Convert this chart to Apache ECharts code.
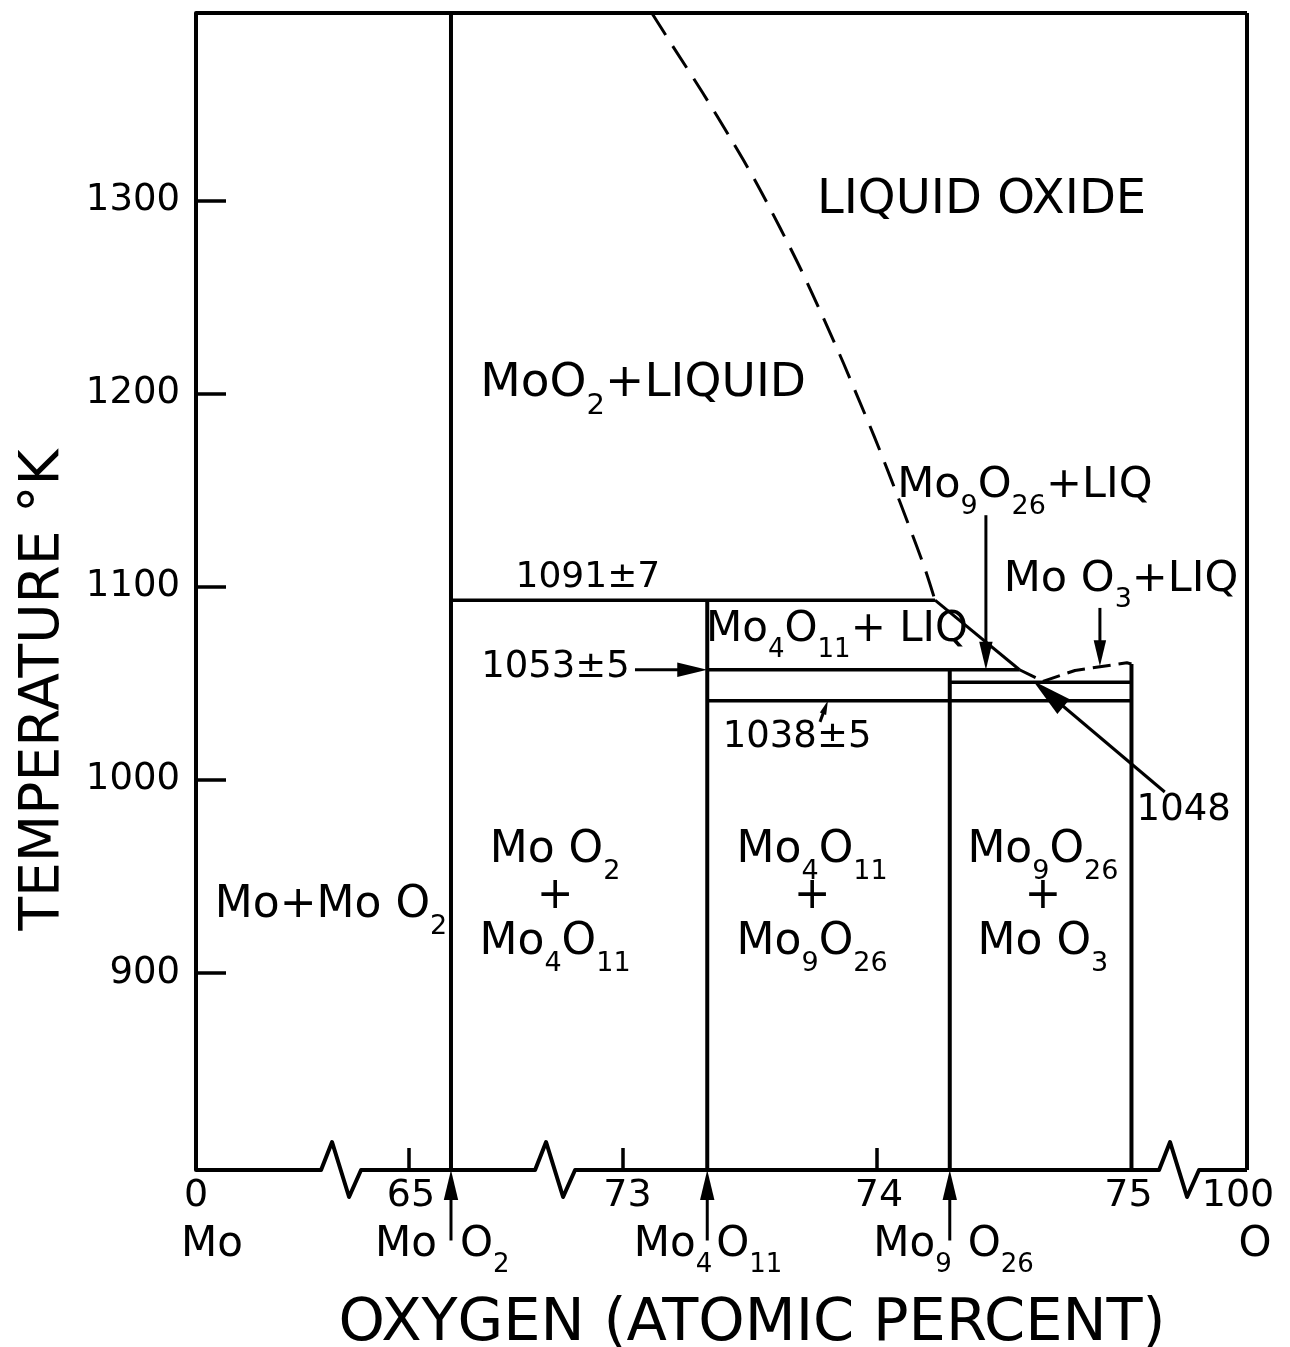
<!DOCTYPE html>
<html><head><meta charset="utf-8">
<script src="https://cdn.jsdelivr.net/npm/echarts@6/dist/echarts.min.js"></script>
<style>html,body{margin:0;padding:0;background:#fff;}#c{width:1290px;height:1347px;}</style>
</head><body><div id="c"></div>
<script>
// ---------------- data ----------------
const compoundNames = ['MoO2', 'Mo4O11', 'Mo9O26', 'MoO3'];
const compoundO = [66.667, 73.333, 74.286, 75.0];           // atomic % oxygen
const tempMin = 798, tempMax = 1397;                        // K
const yTickValues = [900, 1000, 1100, 1200, 1300];
const xTickValues = [0, 65, 73, 74, 75, 100];
const xTickLabels = ['0', '65', '73', '74', '75', '100'];
const xMinorTicks = [65, 73, 74];
// broken composition axis: composition anchors and their place along the drawn axis
const axisAnchorO = [0, 65, 66.667, 73, 75, 100];
const axisAnchorPos = [71.324, 72.161, 72.326, 73, 75, 75.454];
const axisBreakPos = [71.894, 72.735, 75.187];
// MoO2 + liquid boundary (dashed)
const liquidusO = [73.115, 73.203, 73.315, 73.426, 73.523, 73.619, 73.703, 73.787, 73.868, 73.919, 73.989, 74.055, 74.125, 74.187, 74.228];
const liquidusT = [1397, 1378.7, 1355.7, 1331.8, 1309.8, 1285.8, 1263.7, 1239.8, 1215.8, 1199.8, 1177.8, 1155.8, 1131.8, 1109.8, 1093];
// Mo4O11 + liquid boundary (solid)
const liq2O = [74.228, 74.56];
const liq2T = [1093, 1057];
// near-eutectic boundaries (dashed)
const liq3O = [74.56, 74.652, 74.778, 74.982, 75.0];
const liq3T = [1057, 1051, 1056.6, 1060.6, 1060];
// isotherms (1091, 1053, 1048, 1038 as drawn)
const isoT = [1093, 1057, 1050.5, 1041];
const isoFromO = [66.667, 73.333, 74.286, 73.333];
const isoToO = [74.228, 74.56, 75.0, 75.0];
// compound verticals (top temperature)
const vertTopT = [1397, 1093, 1057, 1060];
// annotation arrows [O, T]
const arrowFrom = [[73.049, 1057], [73.776, 1030], [74.428, 1137], [74.876, 1089], [82.2, 993.7], [66.667, 761.5], [73.333, 761.5], [74.286, 761.5]];
const arrowTo = [[73.333, 1057], [73.807, 1041], [74.428, 1057], [74.876, 1058.8], [74.613, 1051.3], [66.667, 798], [73.333, 798], [74.286, 798]];

// ---------------- style ----------------
const FONT = 'DejaVu Sans';
const INK = '#000';
const arrowHeadLen = [30, 14, 28, 26, 40, 30, 30, 30];
const xTickNudge = [0, 2, 5, 2, -3, -9];

function toU(o) {
  for (let i = 0; i < axisAnchorO.length - 1; i++) {
    const a = axisAnchorO[i], b = axisAnchorO[i + 1];
    if (o <= b || i === axisAnchorO.length - 2) {
      return axisAnchorPos[i] + (o - a) / (b - a) * (axisAnchorPos[i + 1] - axisAnchorPos[i]);
    }
  }
}
const uMin = toU(0), uMax = toU(100);

function chem(str) {
  return str.split('\n').map(line => {
    let out = '';
    const re = /_(\d+)/g; let last = 0, m;
    while ((m = re.exec(line))) {
      if (m.index > last) out += '{n|' + line.slice(last, m.index) + '}';
      out += '{s|' + m[1] + '}';
      last = re.lastIndex;
    }
    if (last < line.length) out += '{n|' + line.slice(last) + '}';
    return out;
  }).join('\n');
}
function rich(size) {
  const lh = Math.round(size * 1.05);
  return {
    n: { fontSize: size, fontFamily: FONT, fill: INK, lineHeight: lh },
    s: { fontSize: Math.round(size * 0.62), fontFamily: FONT, fill: INK, lineHeight: lh, padding: [Math.round(size * 0.95), 0, 0, 0] }
  };
}

const labels = [
  { t: 'LIQUID OXIDE', o: 74.411, T: 1300, size: 48 },
  { t: 'MoO_2+LIQUID', o: 73.081, T: 1205, size: 47 },
  { t: 'Mo_9O_26+LIQ', o: 74.581, T: 1152, size: 43 },
  { t: 'Mo O_3+LIQ', o: 74.959, T: 1103.5, size: 43 },
  { t: '1091±7', o: 71.722, T: 1104.5, size: 36 },
  { t: 'Mo_4O_11+ LIQ', o: 73.843, T: 1077.6, size: 42 },
  { t: '1053±5', o: 73.029, T: 1058, size: 37, align: 'right' },
  { t: '1038±5', o: 73.686, T: 1022, size: 37 },
  { t: '1048', o: 86.3, T: 984.4, size: 37 },
  { t: 'Mo+Mo O_2', o: 41.2, T: 934.7, size: 44 },
  { t: 'Mo O_2\n+\nMo_4O_11', o: 70.51, T: 939.4, size: 44 },
  { t: 'Mo_4O_11\n+\nMo_9O_26', o: 73.745, T: 939.4, size: 44 },
  { t: 'Mo_9O_26\n+\nMo O_3', o: 74.652, T: 939.4, size: 44 },
  { t: 'Mo', o: 0, T: 759.2, size: 42, dx: 16 },
  { t: 'Mo', o: compoundO[0], T: 759.2, size: 42, align: 'right', dx: -14 },
  { t: 'O_2', o: compoundO[0], T: 759.2, size: 42, align: 'left', dx: 9 },
  { t: 'Mo_4', o: compoundO[1], T: 759.2, size: 42, align: 'right', dx: 5 },
  { t: 'O_11', o: compoundO[1], T: 759.2, size: 42, align: 'left', dx: 9 },
  { t: 'Mo_9', o: compoundO[2], T: 759.2, size: 42, align: 'right', dx: 2 },
  { t: 'O_26', o: compoundO[2], T: 759.2, size: 42, align: 'left', dx: 18 },
  { t: 'O', o: 100, T: 759.2, size: 42, dx: 8 },
  { t: 'OXYGEN (ATOMIC PERCENT)', o: 73.509, T: 718, size: 59 },
  { t: 'TEMPERATURE °K', o: 0, T: 1046.5, size: 55, dx: -152, rot: 90 }
];
xTickValues.forEach((v, i) => labels.push({ t: xTickLabels[i], o: v, T: 784.6, size: 38, dx: xTickNudge[i] }));

function lineSeries(os, ts, opt) {
  opt = opt || {};
  return {
    type: 'line', data: os.map((o, i) => [toU(o), ts[i]]), symbol: 'none', silent: true,
    clip: false, smooth: opt.smooth || false, animation: false, z: 3,
    lineStyle: { color: INK, width: opt.width || 3.5, type: opt.dash || 'solid', cap: 'butt', join: 'round' }
  };
}

const series = [];
series.push(lineSeries([0, 100], [tempMax, tempMax], { width: 4 }));
series.push(lineSeries([100, 100], [tempMin, tempMax], { width: 4 }));
compoundO.forEach((o, i) => series.push(lineSeries([o, o], [tempMin, vertTopT[i]], { width: 4 })));
isoT.forEach((t, i) => series.push(lineSeries([isoFromO[i], isoToO[i]], [t, t], { width: 3.5 })));
series.push(lineSeries(liquidusO, liquidusT, { width: 3, dash: [26, 13], smooth: 0.3 }));
series.push(lineSeries(liq2O, liq2T, { width: 3 }));
series.push(lineSeries(liq3O, liq3T, { width: 3, dash: [18, 8] }));

// broken bottom axis with zig-zags
series.push({
  type: 'custom', coordinateSystem: 'cartesian2d', silent: true, animation: false, z: 4,
  data: [[uMin, tempMin]],
  renderItem: function (params, api) {
    const start = api.coord([uMin, tempMin]);
    const y0 = start[1];
    const pts = [start];
    axisBreakPos.forEach(b => {
      const cx = api.coord([b, tempMin])[0];
      pts.push([cx - 20, y0], [cx - 9, y0 - 28], [cx + 8, y0 + 27], [cx + 20, y0]);
    });
    pts.push(api.coord([uMax, tempMin]));
    return { type: 'polyline', shape: { points: pts }, style: { stroke: INK, lineWidth: 4, fill: null, lineJoin: 'round' } };
  }
});

// arrows
series.push({
  type: 'custom', coordinateSystem: 'cartesian2d', silent: true, animation: false, z: 5,
  data: arrowFrom.map((f, i) => [toU(f[0]), f[1], toU(arrowTo[i][0]), arrowTo[i][1], i]),
  renderItem: function (params, api) {
    const i = api.value(4);
    const p1 = api.coord([api.value(0), api.value(1)]);
    const p2 = api.coord([api.value(2), api.value(3)]);
    const dx = p2[0] - p1[0], dy = p2[1] - p1[1];
    const len = Math.hypot(dx, dy), ux = dx / len, uy = dy / len;
    const h = arrowHeadLen[i], w = h * 0.24;
    const bx = p2[0] - ux * h, by = p2[1] - uy * h;
    return {
      type: 'group', children: [
        { type: 'line', shape: { x1: p1[0], y1: p1[1], x2: bx + ux * 2, y2: by + uy * 2 }, style: { stroke: INK, lineWidth: 3 } },
        { type: 'polygon', shape: { points: [[p2[0], p2[1]], [bx - uy * w, by + ux * w], [bx + uy * w, by - ux * w]] }, style: { fill: INK } }
      ]
    };
  }
});

// text labels
series.push({
  type: 'custom', coordinateSystem: 'cartesian2d', silent: true, animation: false, z: 6,
  data: labels.map((l, i) => [toU(l.o), l.T, i]),
  renderItem: function (params, api) {
    const L = labels[api.value(2)];
    const p = api.coord([api.value(0), api.value(1)]);
    return {
      type: 'text', x: p[0] + (L.dx || 0), y: p[1] + (L.dy || 0),
      rotation: (L.rot || 0) * Math.PI / 180,
      style: {
        text: chem(L.t), rich: rich(L.size), fill: INK, fontSize: L.size, fontFamily: FONT,
        align: L.align || 'center', verticalAlign: 'middle'
      }
    };
  }
});

const chart = echarts.init(document.getElementById('c'), null, { renderer: 'canvas' });
chart.setOption({
  backgroundColor: '#fff',
  animation: false,
  grid: { left: 196, right: 43, top: 13, bottom: 177 },
  xAxis: {
    type: 'value', min: uMin, max: uMax,
    axisLine: { show: false },
    splitLine: { show: false },
    axisLabel: { show: false },
    axisTick: { show: true, inside: true, length: 22, customValues: xMinorTicks.map(toU), lineStyle: { color: INK, width: 3.5 } }
  },
  yAxis: {
    type: 'value', min: tempMin, max: tempMax,
    axisLine: { show: true, lineStyle: { color: INK, width: 4 } },
    splitLine: { show: false },
    axisTick: { show: true, inside: true, length: 30, customValues: yTickValues, lineStyle: { color: INK, width: 3.5 } },
    axisLabel: { show: true, customValues: yTickValues, fontSize: 37, fontFamily: FONT, color: INK, margin: 16, formatter: v => String(v) }
  },
  series: series
});
</script>
</body></html>
